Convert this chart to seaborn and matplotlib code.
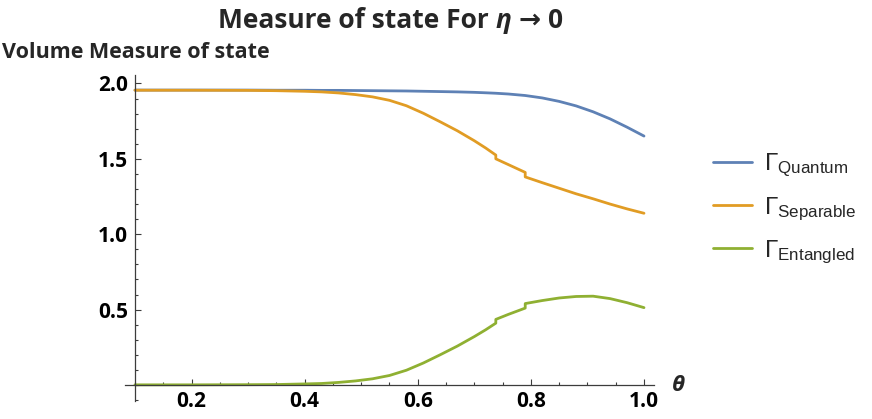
import numpy as np
import pandas as pd
import matplotlib
matplotlib.use("Agg")
import matplotlib.pyplot as plt
from matplotlib.ticker import FixedLocator, MultipleLocator, FormatStrFormatter
import seaborn as sns

# ── values ────────────────────────────────────────────────────────────────
theta = [0.1, 0.2, 0.3, 0.35, 0.4, 0.43, 0.46, 0.49, 0.52, 0.55, 0.58, 0.61,
         0.64, 0.67, 0.70, 0.72, 0.738, 0.738, 0.76, 0.79, 0.79, 0.82, 0.85,
         0.88, 0.91, 0.94, 0.97, 1.0]

gamma_quantum = [1.956, 1.956, 1.956, 1.955, 1.955, 1.954, 1.954, 1.953, 1.952,
                 1.951, 1.950, 1.948, 1.946, 1.944, 1.941, 1.938, 1.935, 1.935,
                 1.930, 1.920, 1.920, 1.904, 1.881, 1.851, 1.812, 1.765, 1.710,
                 1.651]

gamma_separable = [1.955, 1.955, 1.954, 1.952, 1.948, 1.944, 1.937, 1.926, 1.911,
                   1.888, 1.852, 1.802, 1.745, 1.686, 1.620, 1.572, 1.525, 1.500,
                   1.462, 1.410, 1.380, 1.342, 1.305, 1.268, 1.235, 1.200, 1.168,
                   1.139]

gamma_entangled = [0.001, 0.001, 0.002, 0.003, 0.007, 0.010, 0.017, 0.027, 0.041,
                   0.063, 0.098, 0.146, 0.201, 0.258, 0.321, 0.366, 0.410, 0.435,
                   0.468, 0.510, 0.540, 0.560, 0.577, 0.587, 0.589, 0.573, 0.546,
                   0.513]

series_names = ["Quantum", "Separable", "Entangled"]
x_major = [0.2, 0.4, 0.6, 0.8, 1.0]
y_major = [0.5, 1.0, 1.5, 2.0]

colors = {"Quantum": "#5E81B5", "Separable": "#E19C24", "Entangled": "#8FB032"}

df = pd.concat([
    pd.DataFrame({"theta": theta, "value": vals, "series": name})
    for name, vals in zip(series_names, [gamma_quantum, gamma_separable, gamma_entangled])
], ignore_index=True)

# ── style ─────────────────────────────────────────────────────────────────
sns.set_theme(style="white")
plt.rcParams["font.family"] = ["Open Sans", "DejaVu Sans"]
plt.rcParams["mathtext.fontset"] = "custom"
plt.rcParams["mathtext.rm"] = "Liberation Sans"
plt.rcParams["mathtext.it"] = "Liberation Sans:italic"
plt.rcParams["mathtext.bf"] = "Liberation Sans:bold"

fig = plt.figure(figsize=(8.72, 4.19), dpi=100)
ax = fig.add_axes([0.1431, 0.0434, 0.7502 - 0.1431, 0.821 - 0.0434])

sns.lineplot(data=df, x="theta", y="value", hue="series", palette=colors,
             hue_order=series_names, estimator=None, sort=False,
             linewidth=2.0, legend=False, ax=ax)

ax.set_xlim(0.082, 1.018)
ax.set_ylim(-0.105, 2.056)
ax.set_xlabel("")
ax.set_ylabel("")

axis_col = "#3c3c3c"
for side in ["top", "right"]:
    ax.spines[side].set_visible(False)
ax.spines["left"].set_position(("data", 0.1))
ax.spines["bottom"].set_position(("data", 0.0))
for side in ["left", "bottom"]:
    ax.spines[side].set_color(axis_col)
    ax.spines[side].set_linewidth(0.9)

ax.xaxis.set_major_locator(FixedLocator(x_major))
ax.xaxis.set_minor_locator(MultipleLocator(0.05))
ax.yaxis.set_major_locator(FixedLocator(y_major))
ax.yaxis.set_minor_locator(MultipleLocator(0.1))
ax.xaxis.set_major_formatter(FormatStrFormatter("%.1f"))
ax.yaxis.set_major_formatter(FormatStrFormatter("%.1f"))

ax.tick_params(which="both", direction="in", color=axis_col, width=0.8,
               bottom=True, left=True)
ax.tick_params(which="major", length=4.0)
ax.tick_params(which="minor", length=2.2)
ax.tick_params(axis="x", which="major", pad=4)
ax.tick_params(axis="y", which="major", pad=5)
for lab in ax.get_xticklabels() + ax.get_yticklabels():
    lab.set_fontweight("bold")
    lab.set_fontsize(15)
    lab.set_color("black")

# ── texts ─────────────────────────────────────────────────────────────────
t1 = fig.text(218 / 872, 1 - 28 / 419, "Measure of state For", fontsize=19,
              fontweight="bold", ha="left", va="baseline")
t2 = ax.annotate("η", xy=(1, 0), xycoords=t1, xytext=(5, 0),
                 textcoords="offset points", fontsize=19, fontweight="bold",
                 fontstyle="italic", ha="left", va="bottom",
                 annotation_clip=False)
t3 = ax.annotate("→ 0", xy=(1, 0), xycoords=t2, xytext=(5, 0),
                 textcoords="offset points", fontsize=19, fontweight="bold",
                 ha="left", va="bottom", annotation_clip=False)

fig.text(2 / 872, 1 - 58 / 419, "Volume Measure of state", fontsize=15.5,
         fontweight="bold", ha="left", va="baseline")

fig.text(672 / 872, 1 - 385 / 419, "θ", fontsize=16, fontweight="bold",
         fontstyle="italic", ha="left", va="center")

handles = ax.get_lines()[:3]
labels = [r"$\mathrm{\Gamma}_{\mathrm{" + n + "}}$" for n in series_names]
fig.legend(handles, labels, loc="upper left", bbox_to_anchor=(713 / 872, 1 - 152 / 419),
           frameon=False, fontsize=17.5, handlelength=1.6, handletextpad=0.5,
           labelspacing=0.65, borderpad=0, borderaxespad=0)

fig.savefig("out.png", dpi=100)
